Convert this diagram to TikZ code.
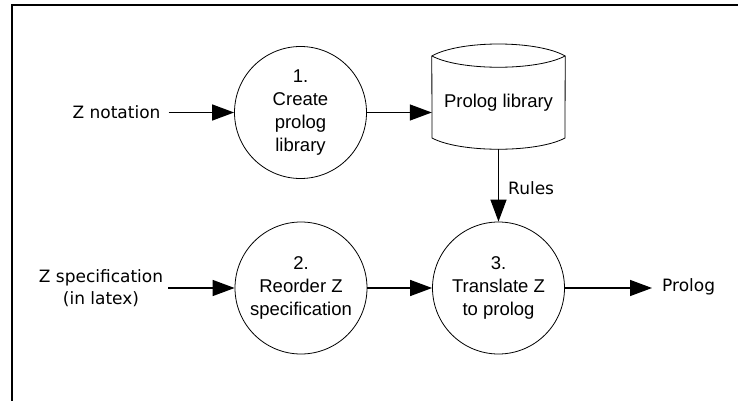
\documentclass[tikz,border=0pt]{standalone}
\usepackage{fontspec}
\setmainfont{Liberation Sans}
\newfontfamily\lblfont{DejaVu Sans}
\usetikzlibrary{arrows.meta}
\begin{document}
\begin{tikzpicture}[x=1pt,y=-1pt,
  proc/.style={circle,draw,line width=0.8pt,minimum size=132pt,inner sep=0pt,
    align=center,font=\fontsize{18.5}{23}\selectfont},
  lbl/.style={inner sep=0pt,align=center,font=\lblfont\fontsize{17}{22}\selectfont},
  arr/.style={line width=1.4pt,-{Triangle[length=22pt,width=16pt]}},
  frame/.style={line width=2pt}]
\useasboundingbox (0,0) rectangle (738,401);
% frame
\draw[frame] (11.5,401) -- (11.5,5.5) -- (738,5.5);
% processes
\node[proc] (c1) at (300.5,112.5) {1.\\Create\\prolog\\library};
\node[proc] (c2) at (301,288) {2.\\Reorder Z\\specification};
\node[proc] (c3) at (498.5,288) {3.\\Translate Z\\to prolog};
% data store
\node[minimum width=133pt,minimum height=105pt,inner sep=0pt] (lib) at (498.5,96.5) {};
\draw[line width=0.8pt] (lib.north west |- 0,56) .. controls (460,40) and (537,40) .. (lib.north east |- 0,56)
  -- (565,138) .. controls (537,153) and (460,153) .. (432,138) -- cycle;
\draw[line width=0.8pt] (432,56) .. controls (460,71) and (537,71) .. (565,56);
\node[font=\fontsize{18.5}{23}\selectfont,inner sep=0pt] (libtxt) at (498.5,103) {Prolog library};
% external labels
\node[lbl] (zn) at (116.5,112.5) {Z notation};
\node[lbl] (zs) at (101,288) {Z specification\\(in latex)};
\node[lbl,anchor=west] (pr) at (662,287) {Prolog};
\node[lbl,anchor=west] (ru) at (508,188) {Rules};
% connectors
\draw[arr] ([xshift=8pt]zn.east) -- (c1.west);
\draw[arr] (c1.east) -- (c1.east -| lib.west);
\draw[arr] ([xshift=5pt]zs.east |- c2.west) -- (c2.west);
\draw[arr] (c2.east) -- (c3.west);
\draw[arr] (c3.east) -- ([xshift=-10pt]pr.west |- c3.east);
\draw[arr] (lib.south) -- (c3.north);
\end{tikzpicture}
\end{document}
